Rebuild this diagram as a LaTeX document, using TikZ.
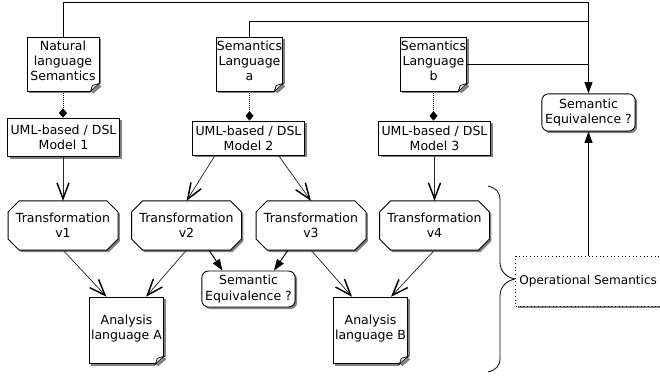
\documentclass[tikz,border=0pt]{standalone}
\usepackage{fontspec}
\setmainfont{DejaVu Sans}
\usetikzlibrary{shadows,arrows.meta,calc}
\pgfdeclarelayer{back}
\pgfsetlayers{back,main}
\definecolor{shadowgray}{gray}{0.5}
\tikzset{
  x=0.75pt,y=-0.75pt,
  every node/.style={font=\fontsize{9.4}{11.4}\selectfont,align=center,inner sep=0pt},
  shad/.style={general shadow={shadow xshift=1.5pt,shadow yshift=-1.5pt,fill=shadowgray}},
  boxA/.style={draw,fill=white,line width=0.65pt,shad,rectangle},
  octa/.style={rectangle},
  octshadow/.style={fill=shadowgray},
  octbody/.style={draw,fill=white,line width=0.65pt},
  opsem/.style={draw,dash pattern=on 0.75pt off 2pt,fill=white,line width=0.7pt,shad,rectangle},
  link/.style={line width=0.7pt},
  thinlink/.style={line width=0.55pt,draw=black!85},
  open/.style={thinlink,-{Straight Barb[length=12pt,width=9pt,line width=1.1pt,color=black]}},
  solidtip/.style={link,-{Triangle[length=8.5pt,width=6pt]}},
  tie/.style={line width=0.4pt,dash pattern=on 0.75pt off 0.75pt,-{Diamond[length=7pt,width=6pt,color=black]}},
}
\newcommand{\lifted}{\\[-6.1pt]\mbox{}}
\newcommand{\earmark}[1]{%
  \fill[white] ($(#1.south east)+(-9,1)$) -- ($(#1.south east)+(1,-8)$) -- ($(#1.south east)+(3,-8)$) -- ($(#1.south east)+(3,3)$) -- ($(#1.south east)+(-9,3)$) -- cycle;
  \fill[shadowgray] ($(#1.south east)+(-8,0)$) -- ($(#1.south east)+(0,-7)$) -- ($(#1.south east)+(2,-5)$) -- ($(#1.south east)+(-6,2)$) -- cycle;
  \draw[line width=0.5pt,fill=black!12] ($(#1.south east)+(-9,0)$) -- ($(#1.south east)+(0,-8)$) -- ($(#1.south east)+(-7,-6)$) -- cycle;}
\newcommand{\octpath}[4]{%
  \path[#4] ($(#1.north west)+(11+#2,#3)$) -- ($(#1.north east)+(-11+#2,#3)$) -- ($(#1.north east)+(#2,11+#3)$) -- ($(#1.south east)+(#2,-11+#3)$) -- ($(#1.south east)+(-11+#2,#3)$) -- ($(#1.south west)+(11+#2,#3)$) -- ($(#1.south west)+(#2,-11+#3)$) -- ($(#1.north west)+(#2,11+#3)$) -- cycle;}
\newcommand{\octagonframe}[1]{%
  \begin{pgfonlayer}{back}
  \octpath{#1}{2}{2}{octshadow}
  \octpath{#1}{0}{0}{octbody}
  \end{pgfonlayer}}
\begin{document}
\begin{tikzpicture}
\useasboundingbox (0,0) rectangle (660,376);
% notes
\node[boxA,minimum width=54pt,minimum height=40.5pt] (nat) at (63,64) {Natural\\language\\Semantics\lifted};
\node[boxA,minimum width=50pt,minimum height=40.5pt] (sa) at (249.5,64) {Semantics\\Language\\a\lifted};
\node[boxA,minimum width=50pt,minimum height=40.5pt] (sb) at (433.5,64) {Semantics\\Language\\b\lifted};
\node[boxA,minimum width=56pt,minimum height=50pt] (aa) at (126.5,330.5) {Analysis\\language A\lifted};
\node[boxA,minimum width=56pt,minimum height=50pt] (ab) at (370.5,330.5) {Analysis\\language B\lifted};
\earmark{nat}\earmark{sa}\earmark{sb}\earmark{aa}\earmark{ab}
% models
\node[boxA,minimum width=84pt,minimum height=29pt] (m1) at (63.5,137.5) {UML-based / DSL\\Model 1};
\node[boxA,minimum width=84pt,minimum height=25.5pt] (m2) at (248.5,138) {UML-based / DSL\\Model 2};
\node[boxA,minimum width=84pt,minimum height=25.5pt] (m3) at (434.5,138) {UML-based / DSL\\Model 3};
% transformations
\node[octa,minimum width=82pt,minimum height=36.5pt] (t1) at (63,225.5) {Transformation\\v1};
\node[octa,minimum width=82pt,minimum height=36.5pt] (t2) at (186.5,225.5) {Transformation\\v2};
\node[octa,minimum width=82pt,minimum height=36.5pt] (t3) at (311,225.5) {Transformation\\v3};
\node[octa,minimum width=82pt,minimum height=36.5pt] (t4) at (434.5,225.5) {Transformation\\v4};
\octagonframe{t1}\octagonframe{t2}\octagonframe{t3}\octagonframe{t4}
% equivalence
\node[boxA,rounded corners=5pt,minimum width=70pt,minimum height=28pt] (e1) at (588.5,112.5) {Semantic\\Equivalence ?};
\node[boxA,rounded corners=5pt,minimum width=70pt,minimum height=27pt] (e2) at (248.5,289) {Semantic\\Equivalence ?};
% operational semantics
\node[opsem,font=\fontsize{9.05}{11}\selectfont,minimum width=112pt,minimum height=37.5pt] (op) at (590.5,281) {Operational Semantics\hspace{3.5pt}};
% routing points
\coordinate (top) at ($(nat.north)+(0,-34)$);
\coordinate (topR) at (top -| e1.north);
\coordinate (sec) at ($(sa.north)+(0,-15)$);
\coordinate (secR) at (sec -| e1.north);
\coordinate (bR) at (sb.east -| e1.north);
% top connectors
\draw[link] (nat.north) -- (top) -- (topR) -- (bR);
\draw[link] (sa.north) -- (sec) -- (secR);
\draw[link] (sb.east) -- (bR);
\draw[solidtip] (bR) -- (e1.north);
\draw[solidtip] (op.north -| e1.south) -- (e1.south);
% ties
\draw[tie] (nat.south) -- (m1.north -| nat.south);
\draw[tie] (sa.south) -- (m2.north -| sa.south);
\draw[tie] (sb.south) -- (m3.north -| sb.south);
% open arrows
\draw[open] (m1.south -| t1.north) -- (t1.north);
\coordinate (m2a) at ($(m2.south)+(-33.5,0)$);
\coordinate (m2b) at ($(m2.south)+(30,0)$);
\draw[open] (m2a) -- (t2.north);
\draw[open] (m2b) -- (t3.north);
\draw[open] (m3.south -| t4.north) -- (t4.north);
\coordinate (aa1) at ($(aa.north)+(-20,0)$);
\coordinate (aa2) at ($(aa.north)+(19.5,0)$);
\coordinate (ab1) at ($(ab.north)+(-18.5,0)$);
\coordinate (ab2) at ($(ab.north)+(20.5,0)$);
\draw[open] (t1.south) -- (aa1);
\draw[open] (t2.south) -- (aa2);
\draw[open] (t3.south) -- (ab1);
\draw[open] (t4.south) -- (ab2);
% solid to e2
\coordinate (t2c) at ($(t2.south)+(22.5,0)$);
\coordinate (t3c) at ($(t3.south)+(-23,0)$);
\coordinate (e2a) at ($(e2.north)+(-26,0)$);
\coordinate (e2b) at ($(e2.north)+(25.5,0)$);
\draw[solidtip] (t2c) -- (e2a);
\draw[solidtip] (t3c) -- (e2b);
% brace
\draw[line width=0.6pt] (488,186) .. controls (496,188) and (500,192) .. (500,200) -- (500,262) .. controls (500,270) and (505,277) .. (515,279) .. controls (505,281) and (500,288) .. (500,296) -- (500,358) .. controls (500,366) and (496,370) .. (488,372);
\end{tikzpicture}
\end{document}
